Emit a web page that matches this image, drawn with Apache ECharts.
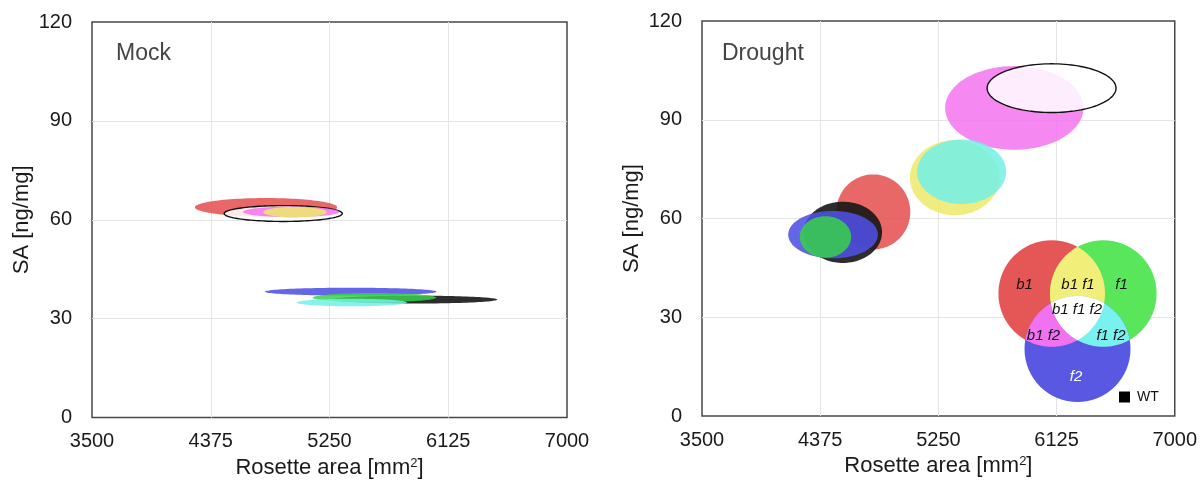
<!DOCTYPE html>
<html>
<head>
<meta charset="utf-8">
<script src="https://cdn.jsdelivr.net/npm/echarts@6/dist/echarts.min.js"></script>
<style>
html,body{margin:0;padding:0;background:#fff;}
#chart{width:1200px;height:484px;}
</style>
</head>
<body>
<div id="chart"></div>
<script>
// ---------- data ----------
const xTicks = [3500, 4375, 5250, 6125, 7000];
const yTicks = [0, 30, 60, 90, 120];
const panelTitles = ['Mock', 'Drought'];

// Mock (listed in drawing order)
const mockGenotype = ['b1', 'b1 f1 f2', 'b1 f2', 'b1 f1', 'f2', 'WT', 'f1', 'f1 f2'];
const mockArea     = [4782, 4909, 4968, 4996, 5407, 5881, 5581, 5414];
const mockAreaSD   = [524, 435, 354, 234, 633, 605, 455, 406];
const mockSA       = [63.8, 61.9, 62.4, 62.3, 38.2, 35.8, 36.4, 34.9];
const mockSASD     = [2.8, 2.4, 1.6, 1.6, 1.2, 1.2, 1.4, 1.15];

// Drought (listed in drawing order)
const droughtGenotype = ['b1 f2', 'b1 f1 f2', 'b1 f1', 'f1 f2', 'b1', 'WT', 'f2', 'f1'];
const droughtArea     = [5812, 6088, 5371, 5422, 4768, 4543, 4470, 4414];
const droughtAreaSD   = [512, 477, 332, 330, 274, 290, 332, 190];
const droughtSA       = [93.6, 99.6, 72.4, 74.2, 62.0, 55.8, 55.1, 54.4];
const droughtSASD     = [12.7, 7.4, 11.4, 9.8, 11.4, 9.3, 7.2, 6.3];

// ---------- styling ----------
const FONT = "'Liberation Sans', Arial, Helvetica, sans-serif";
const genoStyle = {
  'WT':       {fill: 'rgba(22,22,22,0.9)'},
  'b1':       {fill: 'rgba(228,78,78,0.85)'},
  'f1':       {fill: 'rgba(55,209,74,0.85)'},
  'f2':       {fill: 'rgba(80,80,228,0.88)'},
  'b1 f1':    {fill: 'rgba(237,233,106,0.85)'},
  'b1 f2':    {fill: 'rgba(243,115,238,0.85)'},
  'f1 f2':    {fill: 'rgba(115,240,230,0.85)'},
  'b1 f1 f2': {fill: 'rgba(255,255,255,0.86)', stroke: '#111', lineWidth: 1.4}
};

function makeRender(genos) {
  return function (params, api) {
    const c = api.coord([api.value(0), api.value(1)]);
    const s = api.size([api.value(2), api.value(3)]);
    const st = genoStyle[genos[api.value(4)]];
    const pts = [];
    const N = 120;
    for (let i = 0; i < N; i++) {
      const t = i / N * Math.PI * 2;
      pts.push([c[0] + s[0] * Math.cos(t), c[1] + s[1] * Math.sin(t)]);
    }
    return {
      type: 'polygon',
      shape: {points: pts},
      style: {fill: st.fill, stroke: st.stroke || null, lineWidth: st.lineWidth || 0}
    };
  };
}

function rows(area, sa, areaSD, saSD) {
  return area.map((v, i) => [v, sa[i], areaSD[i], saSD[i], i]);
}

// ---------- Venn legend (layout only) ----------
const vennR = {cx: 1051.7, cy: 293.5, r: 53.3};
const vennG = {cx: 1103.3, cy: 293.5, r: 53.3};
const vennB = {cx: 1077.5, cy: 349.0, r: 53.0};
function diskRegion(disks, N) {
  N = N || 240;
  const o = [0, 0];
  disks.forEach(d => { o[0] += d.cx / disks.length; o[1] += d.cy / disks.length; });
  const pts = [];
  for (let i = 0; i < N; i++) {
    const a = i / N * Math.PI * 2, ux = Math.cos(a), uy = Math.sin(a);
    let t = Infinity;
    disks.forEach(d => {
      const dx = o[0] - d.cx, dy = o[1] - d.cy;
      const b = dx * ux + dy * uy, c = dx * dx + dy * dy - d.r * d.r;
      const tt = -b + Math.sqrt(b * b - c);
      if (tt < t) t = tt;
    });
    pts.push([o[0] + t * ux, o[1] + t * uy]);
  }
  return pts;
}
const vennColors = {R: '#e55656', G: '#5ae65a', B: '#5858e2', RG: '#f1ee7a', RB: '#f172f0', GB: '#7af1f1', RGB: '#ffffff'};
const vennGraphics = [
  {type: 'circle', shape: {cx: vennR.cx, cy: vennR.cy, r: vennR.r}, style: {fill: vennColors.R}, z: 50},
  {type: 'circle', shape: {cx: vennG.cx, cy: vennG.cy, r: vennG.r}, style: {fill: vennColors.G}, z: 50},
  {type: 'circle', shape: {cx: vennB.cx, cy: vennB.cy, r: vennB.r}, style: {fill: vennColors.B}, z: 50},
  {type: 'polygon', shape: {points: diskRegion([vennR, vennG])}, style: {fill: vennColors.RG}, z: 51},
  {type: 'polygon', shape: {points: diskRegion([vennR, vennB])}, style: {fill: vennColors.RB}, z: 51},
  {type: 'polygon', shape: {points: diskRegion([vennG, vennB])}, style: {fill: vennColors.GB}, z: 51},
  {type: 'polygon', shape: {points: diskRegion([vennR, vennG, vennB])}, style: {fill: vennColors.RGB}, z: 52}
];
const vennLabels = [
  ['b1', 1024.5, 284.5, '#111'],
  ['b1 f1', 1078, 284.5, '#111'],
  ['f1', 1121.5, 284.5, '#111'],
  ['b1 f1 f2', 1077, 309.5, '#111'],
  ['b1 f2', 1043.5, 336, '#111'],
  ['f1 f2', 1111, 336, '#111'],
  ['f2', 1076, 377, '#ffffff']
];
vennLabels.forEach(l => vennGraphics.push({
  type: 'text', x: l[1], y: l[2], z: 60,
  style: {text: l[0], fill: l[3], font: 'italic 15px ' + FONT, textAlign: 'center', textVerticalAlign: 'middle'}
}));
vennGraphics.push({type: 'rect', shape: {x: 1119, y: 391.5, width: 11, height: 11}, style: {fill: '#000'}, z: 60});
vennGraphics.push({type: 'text', x: 1137, y: 397, z: 60,
  style: {text: 'WT', fill: '#111', font: '14px ' + FONT, textAlign: 'left', textVerticalAlign: 'middle'}});

// panel titles
const titleGraphics = [
  {type: 'text', x: 116, y: 54, z: 60, style: {text: panelTitles[0], fill: '#444', font: '23px ' + FONT, textVerticalAlign: 'middle'}},
  {type: 'text', x: 722, y: 54, z: 60, style: {text: panelTitles[1], fill: '#444', font: '23px ' + FONT, textVerticalAlign: 'middle'}}
];

// ---------- axes ----------
function xAxisDef(gi) {
  return {
    type: 'value', gridIndex: gi, min: xTicks[0], max: xTicks[xTicks.length - 1],
    interval: xTicks[1] - xTicks[0],
    name: 'Rosette area [mm{sup|2}]', nameLocation: 'middle', nameGap: 38,
    nameTextStyle: {fontFamily: FONT, fontSize: 22, color: '#1a1a1a',
      rich: {sup: {fontFamily: FONT, fontSize: 13, color: '#1a1a1a', verticalAlign: 'top', padding: [0, 0, 10, 0]}}},
    axisLine: {show: false}, axisTick: {show: false},
    axisLabel: {fontFamily: FONT, fontSize: 20, color: '#1a1a1a', margin: 14, showMinLabel: true, showMaxLabel: true,
      formatter: v => String(v)},
    splitLine: {show: true, showMinLine: false, showMaxLine: false, lineStyle: {color: '#e4e4e4', width: 1}}
  };
}
function yAxisDef(gi) {
  return {
    type: 'value', gridIndex: gi, min: yTicks[0], max: yTicks[yTicks.length - 1],
    interval: yTicks[1] - yTicks[0],
    name: 'SA [ng/mg]', nameLocation: 'middle', nameGap: 59, nameRotate: 90,
    nameTextStyle: {fontFamily: FONT, fontSize: 22, color: '#1a1a1a'},
    axisLine: {show: false}, axisTick: {show: false},
    axisLabel: {fontFamily: FONT, fontSize: 20, color: '#1a1a1a', margin: 20, formatter: v => String(v)},
    splitLine: {show: true, showMinLine: false, showMaxLine: false, lineStyle: {color: '#e4e4e4', width: 1}}
  };
}

const chart = echarts.init(document.getElementById('chart'), null, {renderer: 'canvas'});
chart.setOption({
  backgroundColor: '#ffffff',
  animation: false,
  grid: [
    {left: 92, top: 22, width: 475, height: 396, show: true, borderColor: '#474747', borderWidth: 1.5, backgroundColor: 'transparent'},
    {left: 702, top: 21, width: 475, height: 395, show: true, borderColor: '#474747', borderWidth: 1.5, backgroundColor: 'transparent'}
  ],
  xAxis: [xAxisDef(0), xAxisDef(1)],
  yAxis: [yAxisDef(0), yAxisDef(1)],
  series: [
    {type: 'custom', xAxisIndex: 0, yAxisIndex: 0, renderItem: makeRender(mockGenotype),
      encode: {x: 0, y: 1}, data: rows(mockArea, mockSA, mockAreaSD, mockSASD), silent: true},
    {type: 'custom', xAxisIndex: 1, yAxisIndex: 1, renderItem: makeRender(droughtGenotype),
      encode: {x: 0, y: 1}, data: rows(droughtArea, droughtSA, droughtAreaSD, droughtSASD), silent: true}
  ],
  graphic: titleGraphics.concat(vennGraphics)
});
</script>
</body>
</html>
